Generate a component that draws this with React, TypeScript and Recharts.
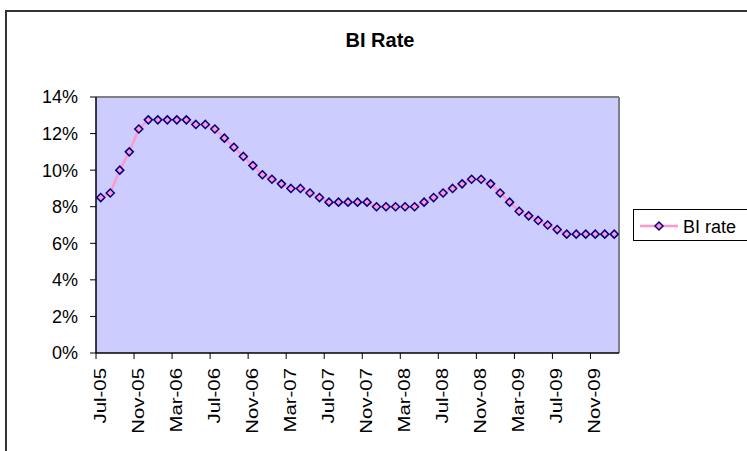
import React from 'react';
import { LineChart, Line, XAxis, YAxis, CartesianGrid, ReferenceLine } from 'recharts';

const months: string[] = [
  'Jul-05', 'Aug-05', 'Sep-05', 'Oct-05', 'Nov-05', 'Dec-05',
  'Jan-06', 'Feb-06', 'Mar-06', 'Apr-06', 'May-06', 'Jun-06', 'Jul-06', 'Aug-06', 'Sep-06', 'Oct-06', 'Nov-06', 'Dec-06',
  'Jan-07', 'Feb-07', 'Mar-07', 'Apr-07', 'May-07', 'Jun-07', 'Jul-07', 'Aug-07', 'Sep-07', 'Oct-07', 'Nov-07', 'Dec-07',
  'Jan-08', 'Feb-08', 'Mar-08', 'Apr-08', 'May-08', 'Jun-08', 'Jul-08', 'Aug-08', 'Sep-08', 'Oct-08', 'Nov-08', 'Dec-08',
  'Jan-09', 'Feb-09', 'Mar-09', 'Apr-09', 'May-09', 'Jun-09', 'Jul-09', 'Aug-09', 'Sep-09', 'Oct-09', 'Nov-09', 'Dec-09',
  'Jan-10',
];

const biRate: number[] = [
  8.5, 8.75, 10, 11, 12.25, 12.75,
  12.75, 12.75, 12.75, 12.75, 12.5, 12.5, 12.25, 11.75, 11.25, 10.75, 10.25, 9.75,
  9.5, 9.25, 9.0, 9.0, 8.75, 8.5, 8.25, 8.25, 8.25, 8.25, 8.25, 8.0,
  8.0, 8.0, 8.0, 8.0, 8.25, 8.5, 8.75, 9.0, 9.25, 9.5, 9.5, 9.25,
  8.75, 8.25, 7.75, 7.5, 7.25, 7.0, 6.75, 6.5, 6.5, 6.5, 6.5, 6.5,
  6.5,
];

const yTicks: number[] = [0, 2, 4, 6, 8, 10, 12, 14];
const labelEvery = 4;
const seriesName = 'BI rate';
const chartTitle = 'BI Rate';

const data = months.map((m, i) => ({ x: i + 0.5, month: m, rate: biRate[i] }));
const xTicks = months.map((_, i) => i).filter((i) => i % labelEvery === 0).map((i) => i + 0.5);

const FONT = '"Liberation Sans", Arial, Helvetica, sans-serif';
const PINK = '#FF99CC';
const NAVY = '#000080';

const Diamond = (props: any) => {
  const { cx, cy } = props;
  if (cx == null || cy == null) return null;
  const r = 4;
  return (
    <polygon
      points={`${cx},${cy - r} ${cx + r},${cy} ${cx},${cy + r} ${cx - r},${cy}`}
      fill={PINK}
      stroke={NAVY}
      strokeWidth={1.5}
    />
  );
};

const XTick = (props: any) => {
  const { x, y, payload, width } = props;
  const idx = Math.round(payload.value - 0.5);
  const label = months[idx] ?? '';
  const w = typeof width === 'number' && width > 0 ? width : 523;
  const half = w / months.length / 2;
  const axisY = y - 15;
  return (
    <g>
      <line x1={x - half} y1={axisY} x2={x - half} y2={axisY + 6} stroke="#000" strokeWidth={1} />
      <text
        transform={`translate(${x - 1},${y}) rotate(-90) scale(1.2,1)`}
        textAnchor="end"
        dominantBaseline="central"
        fontSize={17}
        fontFamily={FONT}
        fill="#000"
      >
        {label}
      </text>
    </g>
  );
};

const LegendBox = () => (
  <div style={{ width: 140, height: 32, border: '1px solid #000', boxSizing: 'border-box', background: '#fff' }}>
    <svg width={138} height={30} style={{ display: 'block' }}>
      <line x1={6} y1={16} x2={44} y2={16} stroke={PINK} strokeWidth={2.5} />
      <Diamond cx={25} cy={16} />
      <text x={49} y={22.5} fontSize={18} fontFamily={FONT} fill="#000">{seriesName}</text>
    </svg>
  </div>
);

export default function App() {
  return (
    <div style={{ position: 'absolute', left: 0, top: 0, width: 747, height: 451, overflow: 'hidden', background: '#fff' }}>
      <div
        style={{
          position: 'absolute', left: 5, top: 10, width: 800, height: 500,
          borderLeft: '2px solid #333', borderTop: '2px solid #333', boxSizing: 'border-box',
        }}
      />
      <svg width={747} height={451} style={{ position: 'absolute', left: 0, top: 0 }}>
        <text x={380} y={46.5} textAnchor="middle" fontSize={20} fontWeight="bold" fontFamily={FONT} fill="#000">
          {chartTitle}
        </text>
      </svg>
      <div style={{ position: 'absolute', left: 0, top: 0 }}>
        <LineChart width={747} height={451} data={data} margin={{ top: 97, right: 128, bottom: 8, left: 0 }}>
          <CartesianGrid fill="#CCCCFF" stroke="none" horizontal={false} vertical={false} />
          <XAxis
            type="number"
            dataKey="x"
            domain={[0, months.length]}
            ticks={xTicks}
            interval={0}
            tickLine={false}
            tickSize={6}
            tickMargin={9}
            height={90}
            axisLine={{ stroke: '#000', strokeWidth: 1.5 }}
            tick={<XTick />}
          />
          <YAxis
            type="number"
            domain={[0, 14]}
            ticks={yTicks}
            interval={0}
            width={96}
            tickSize={6}
            tickMargin={12}
            tickFormatter={(v: number) => `${v}%`}
            axisLine={{ stroke: '#000', strokeWidth: 1.5 }}
            tickLine={{ stroke: '#000' }}
            tick={{ fontSize: 18, fontFamily: FONT, fill: '#000' }}
          />
          <ReferenceLine y={14} stroke="#808080" strokeWidth={2} />
          <ReferenceLine x={months.length} stroke="#808080" strokeWidth={2} />
          <Line
            type="linear"
            dataKey="rate"
            name={seriesName}
            stroke={PINK}
            strokeWidth={2.5}
            dot={<Diamond />}
            activeDot={false}
            isAnimationActive={false}
          />
        </LineChart>
      </div>
      <div style={{ position: 'absolute', left: 633, top: 209 }}>
        <LegendBox />
      </div>
    </div>
  );
}
